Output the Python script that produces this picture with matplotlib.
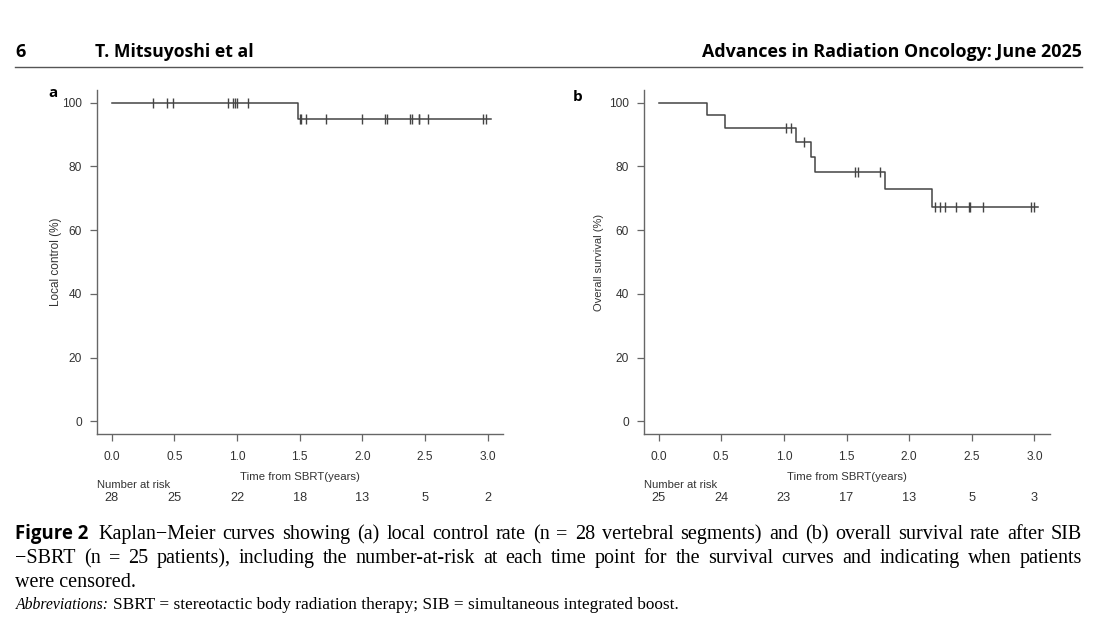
import numpy as np
import matplotlib
matplotlib.use('Agg')
import matplotlib.pyplot as plt

# panel a: local control
lc_step_t = [0.0, 1.49]
lc_step_s = [100.0, 95.0]
lc_end = 3.03
lc_censor = [0.33, 0.44, 0.49, 0.93, 0.97, 0.985, 1.0, 1.09, 1.50, 1.51, 1.55,
             1.71, 2.0, 2.18, 2.20, 2.38, 2.40, 2.45, 2.455, 2.52, 2.96, 2.99]
lc_risk = [28, 25, 22, 18, 13, 5, 2]

# panel b: overall survival
os_step_t = [0.0, 0.39, 0.53, 1.10, 1.22, 1.25, 1.81, 2.18]
os_step_s = [100.0, 96.0, 92.0, 87.6, 83.0, 78.4, 72.8, 67.2]
os_end = 3.03
os_censor = [1.02, 1.06, 1.16, 1.57, 1.59, 1.77, 2.21, 2.25, 2.29, 2.37, 2.48,
             2.485, 2.59, 2.975, 2.995]
os_risk = [25, 24, 23, 17, 13, 5, 3]

risk_times = [0.0, 0.5, 1.0, 1.5, 2.0, 2.5, 3.0]
xticks = [0.0, 0.5, 1.0, 1.5, 2.0, 2.5, 3.0]
yticks = [0, 20, 40, 60, 80, 100]

W, H = 1118, 622
fig = plt.figure(figsize=(W / 100, H / 100), dpi=100)
fig.patch.set_facecolor('white')

AX_FONT = 'Liberation Sans'
GREY = '#444444'
TXT = '#333333'


def px(x, y):
    return x / W, 1 - y / H


def km_panel(left_px, step_t, step_s, end_t, censor, risk, ylabel, ylab_x,
             ylab_size, letter, letter_xy):
    ax = fig.add_axes([left_px / W, 1 - 434 / H, 406 / W, 344 / H])
    t = list(step_t) + [end_t]
    s = list(step_s) + [step_s[-1]]
    ax.step(t, s, where='post', color=GREY, lw=1.1)
    idx = np.searchsorted(step_t, censor, side='right') - 1
    cy = np.array(step_s)[idx]
    ax.plot(censor, cy, ls='none', marker='|', ms=6.5, mew=1.0, color=GREY)
    ax.set_xlim(-0.12, 3.12)
    ax.set_ylim(-4, 104)
    ax.set_xticks(xticks)
    ax.set_xticklabels(['%.1f' % v for v in xticks])
    ax.set_yticks(yticks)
    for side in ['top', 'right']:
        ax.spines[side].set_visible(False)
    for side in ['left', 'bottom']:
        ax.spines[side].set_color('#666666')
        ax.spines[side].set_linewidth(1.0)
    ax.tick_params(direction='out', length=5, width=0.9, color='#666666',
                   labelsize=8.6, labelcolor=TXT, pad=5.5)
    ax.tick_params(axis='x', pad=7.5)
    for lab in ax.get_xticklabels() + ax.get_yticklabels():
        lab.set_fontfamily(AX_FONT)
    ax.set_ylabel(ylabel, fontsize=ylab_size, family=AX_FONT, color=TXT)
    ax.yaxis.set_label_coords(ylab_x, 0.5)
    ax.yaxis.label.set_va('center')
    ax.text(0.5, -0.125, 'Time from SBRT(years)', transform=ax.transAxes,
            ha='center', va='center', fontsize=8.2, family=AX_FONT, color=TXT)
    ax.text(0.0, -0.149, 'Number at risk', transform=ax.transAxes,
            ha='left', va='center', fontsize=8.1, family=AX_FONT, color=TXT)
    trans = ax.get_xaxis_transform()
    for rt, n in zip(risk_times, risk):
        ax.text(rt, -0.187, str(n), transform=trans, ha='center', va='center',
                fontsize=9.2, family=AX_FONT, color=TXT)
    fig.text(*px(*letter_xy), letter, fontsize=11, fontweight='bold',
             family='Open Sans', ha='left', va='center')
    return ax


km_panel(96.7, lc_step_t, lc_step_s, lc_end, lc_censor, lc_risk,
         'Local control (%)', -0.10, 8.5, 'a', (48, 93))
km_panel(643.5, os_step_t, os_step_s, os_end, os_censor, os_risk,
         'Overall survival (%)', -0.11, 8.0, 'b', (573, 97))

# page header
fig.text(*px(15, 52), '6', fontsize=13, fontweight='bold', family='Open Sans',
         ha='left', va='center')
fig.text(*px(95, 52), 'T. Mitsuyoshi et al', fontsize=12.7, fontweight='bold',
         family='Open Sans', ha='left', va='center')
fig.text(*px(1082, 52), 'Advances in Radiation Oncology: June 2025',
         fontsize=12.9, fontweight='bold', family='Open Sans', ha='right',
         va='center')
fig.add_artist(plt.Line2D([15 / W, 1082 / W], [1 - 67 / H, 1 - 67 / H],
                          color='#555555', lw=1.0))

# caption, justified lines (baseline positions in pixels)
renderer = fig.canvas.get_renderer()
CAP_SIZE = 14.5
SERIF = 'Liberation Serif'


def justify(words, x0, x1, base_y, size):
    texts = [fig.text(0, 1 - base_y / H, w, fontsize=size, family=SERIF,
                      ha='left', va='baseline') for w in words]
    widths = [t.get_window_extent(renderer).width for t in texts]
    gap = (x1 - x0 - sum(widths)) / (len(words) - 1)
    x = x0
    for t, w in zip(texts, widths):
        t.set_x(x / W)
        x += w + gap


fig.text(*px(15, 539), 'Figure 2', fontsize=13.4, fontweight='bold',
         family='Open Sans', ha='left', va='baseline')
line1 = ('Kaplan\u2212Meier curves showing (a) local control rate (n = 28 '
         'vertebral segments) and (b) overall survival rate after SIB')
line2 = ('\u2212SBRT (n = 25 patients), including the number-at-risk at each '
         'time point for the survival curves and indicating when patients')
justify(line1.split(' '), 98, 1082, 539, CAP_SIZE)
justify(line2.split(' '), 15, 1082, 563, CAP_SIZE)
fig.text(*px(15, 587), 'were censored.', fontsize=CAP_SIZE, family=SERIF,
         ha='left', va='baseline')
t_ab = fig.text(*px(16, 609), 'Abbreviations:', fontsize=11.3, family=SERIF,
                style='italic', ha='left', va='baseline')
w_ab = t_ab.get_window_extent(renderer).width
fig.text(*px(16 + w_ab + 4, 609),
         'SBRT = stereotactic body radiation therapy; SIB = simultaneous '
         'integrated boost.', fontsize=12.4, family=SERIF,
         ha='left', va='baseline')

fig.savefig('out.png', dpi=100)
